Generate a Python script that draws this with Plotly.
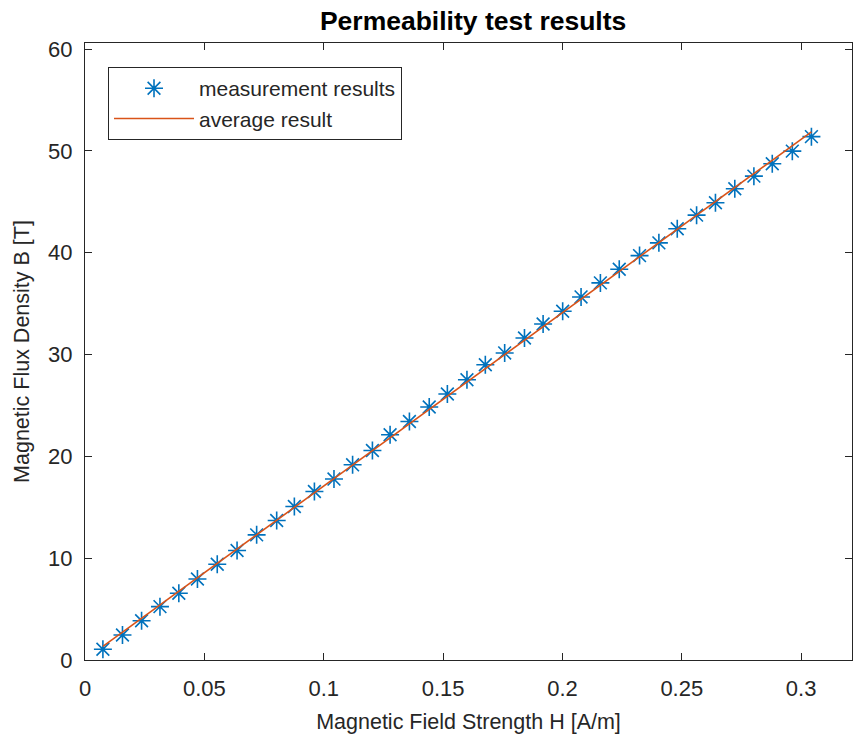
import numpy as np
import plotly.graph_objects as go

H = [0.0075, 0.0157, 0.0237, 0.0314, 0.0393, 0.0471, 0.0554, 0.0637, 0.0719, 0.0803,
     0.0877, 0.0961, 0.1043, 0.1121, 0.1204, 0.1278, 0.1359, 0.1442, 0.1518, 0.1600,
     0.1677, 0.1758, 0.1841, 0.1919, 0.2001, 0.2078, 0.2159, 0.2238, 0.2323, 0.2404,
     0.2481, 0.2562, 0.2641, 0.2722, 0.2802, 0.2879, 0.2963, 0.3043]
B = [1.05, 2.46, 3.86, 5.24, 6.55, 7.96, 9.41, 10.75, 12.29, 13.70,
     15.07, 16.55, 17.77, 19.17, 20.58, 22.12, 23.43, 24.85, 26.13, 27.53,
     29.00, 30.16, 31.63, 33.00, 34.25, 35.66, 37.04, 38.38, 39.72, 40.97,
     42.35, 43.69, 44.91, 46.28, 47.52, 48.74, 49.98, 51.40]

x_ticks = [0, 0.05, 0.1, 0.15, 0.2, 0.25, 0.3]
x_ticklabels = ["0", "0.05", "0.1", "0.15", "0.2", "0.25", "0.3"]
y_ticks = [0, 10, 20, 30, 40, 50, 60]

# average result: linear fit of measurements
coef = np.polyfit(H, B, 1)
H_arr = np.array(H)
B_avg = np.polyval(coef, H_arr)

font_family = "Liberation Sans, Arial, sans-serif"
axis_col = "#262626"

fig = go.Figure()
fig.add_trace(go.Scatter(
    x=H, y=B, mode="markers", name="measurement results",
    marker=dict(symbol="asterisk-open", size=15, color="#0072BD",
                line=dict(color="#0072BD", width=1.6)),
))
fig.add_trace(go.Scatter(
    x=H_arr, y=B_avg, mode="lines", name="average result",
    line=dict(color="#D95319", width=1.6),
))

fig.update_layout(
    width=854, height=740,
    margin=dict(l=85, r=2, t=43, b=80, autoexpand=False),
    paper_bgcolor="white", plot_bgcolor="white",
    font=dict(family=font_family, size=21, color=axis_col),
    title=dict(text="<b>Permeability test results</b>", x=0.554, xanchor="center",
               y=0.9716, yanchor="middle", font=dict(size=26.5, color="black")),
    showlegend=True,
    legend=dict(x=0.030, y=0.961, xanchor="left", yanchor="top",
                bordercolor=axis_col, borderwidth=1, bgcolor="white",
                font=dict(size=21, color=axis_col), itemwidth=80,
                tracegroupgap=0),
)
fig.update_xaxes(
    range=[0, 0.3213], tickvals=x_ticks, ticktext=x_ticklabels,
    ticks="inside", ticklen=7, tickwidth=1, tickcolor=axis_col,
    showline=True, linecolor=axis_col, linewidth=1, mirror="ticks",
    showgrid=False, zeroline=False, automargin=False,
    tickfont=dict(size=22, color=axis_col), ticklabelstandoff=9,
    title=dict(text="Magnetic Field Strength H [A/m]", font=dict(size=21.5, color=axis_col), standoff=13),
)
fig.update_yaxes(
    range=[0, 60.6], tickvals=y_ticks,
    ticks="inside", ticklen=7, tickwidth=1, tickcolor=axis_col,
    showline=True, linecolor=axis_col, linewidth=1, mirror="ticks",
    showgrid=False, zeroline=False, automargin=False,
    tickfont=dict(size=22, color=axis_col), ticklabelstandoff=7,
    title=dict(text="Magnetic Flux Density B [T]", font=dict(size=21.5, color=axis_col), standoff=12),
)

fig.write_html(
    "out.html",
    config={"displayModeBar": False},
    post_script="document.body.style.margin='0';document.body.style.overflow='hidden';",
)
